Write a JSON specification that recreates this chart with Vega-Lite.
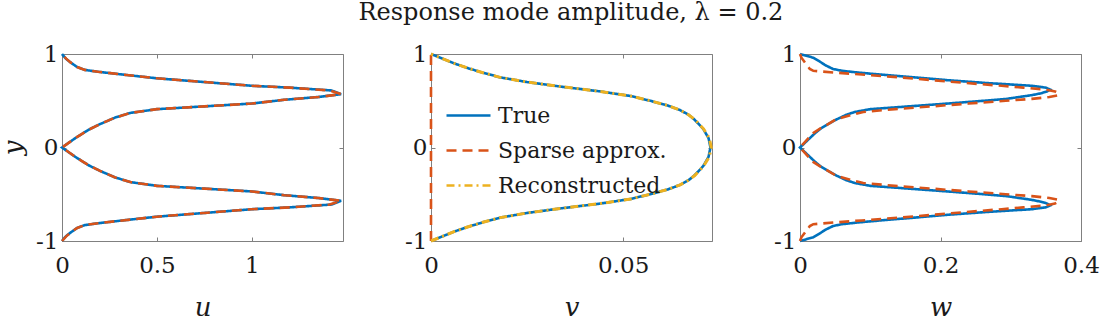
{
  "$schema": "https://vega.github.io/schema/vega-lite/v6.json",
  "background": "white",
  "padding": {"left": 0, "top": 0, "right": 0, "bottom": 0},
  "title": {"text": "Response mode amplitude, λ = 0.2", "offset": 18, "dx": 21},
  "datasets": {
    "u": [
      {"y": 1, "True": 0, "Sparse": 0},
      {"y": 0.95, "True": 0.02, "Sparse": 0.022},
      {"y": 0.91, "True": 0.045, "Sparse": 0.045},
      {"y": 0.86, "True": 0.08, "Sparse": 0.08},
      {"y": 0.83, "True": 0.12, "Sparse": 0.12},
      {"y": 0.81, "True": 0.19, "Sparse": 0.19},
      {"y": 0.78, "True": 0.32, "Sparse": 0.32},
      {"y": 0.74, "True": 0.5, "Sparse": 0.5},
      {"y": 0.7, "True": 0.75, "Sparse": 0.75},
      {"y": 0.66, "True": 1.0, "Sparse": 1.0},
      {"y": 0.64, "True": 1.2, "Sparse": 1.2},
      {"y": 0.61, "True": 1.42, "Sparse": 1.41},
      {"y": 0.57, "True": 1.47, "Sparse": 1.47},
      {"y": 0.54, "True": 1.35, "Sparse": 1.35},
      {"y": 0.51, "True": 1.17, "Sparse": 1.17},
      {"y": 0.47, "True": 1.0, "Sparse": 1.0},
      {"y": 0.44, "True": 0.75, "Sparse": 0.75},
      {"y": 0.41, "True": 0.5, "Sparse": 0.5},
      {"y": 0.37, "True": 0.36, "Sparse": 0.36},
      {"y": 0.32, "True": 0.28, "Sparse": 0.28},
      {"y": 0.25, "True": 0.2, "Sparse": 0.2},
      {"y": 0.19, "True": 0.14, "Sparse": 0.14},
      {"y": 0.1, "True": 0.07, "Sparse": 0.07},
      {"y": 0, "True": 0, "Sparse": 0},
      {"y": -0.1, "True": 0.07, "Sparse": 0.07},
      {"y": -0.19, "True": 0.14, "Sparse": 0.14},
      {"y": -0.25, "True": 0.2, "Sparse": 0.2},
      {"y": -0.32, "True": 0.28, "Sparse": 0.28},
      {"y": -0.37, "True": 0.36, "Sparse": 0.36},
      {"y": -0.41, "True": 0.5, "Sparse": 0.5},
      {"y": -0.44, "True": 0.75, "Sparse": 0.75},
      {"y": -0.47, "True": 1.0, "Sparse": 1.0},
      {"y": -0.51, "True": 1.17, "Sparse": 1.17},
      {"y": -0.54, "True": 1.35, "Sparse": 1.35},
      {"y": -0.57, "True": 1.47, "Sparse": 1.47},
      {"y": -0.61, "True": 1.42, "Sparse": 1.41},
      {"y": -0.64, "True": 1.2, "Sparse": 1.2},
      {"y": -0.66, "True": 1.0, "Sparse": 1.0},
      {"y": -0.7, "True": 0.75, "Sparse": 0.75},
      {"y": -0.74, "True": 0.5, "Sparse": 0.5},
      {"y": -0.78, "True": 0.32, "Sparse": 0.32},
      {"y": -0.81, "True": 0.19, "Sparse": 0.19},
      {"y": -0.83, "True": 0.12, "Sparse": 0.12},
      {"y": -0.86, "True": 0.08, "Sparse": 0.08},
      {"y": -0.91, "True": 0.045, "Sparse": 0.045},
      {"y": -0.95, "True": 0.02, "Sparse": 0.022},
      {"y": -1, "True": 0, "Sparse": 0}
    ],
    "v": [
      {"y": 1, "True": 0, "Sparse": 0, "Reconstructed": 0},
      {"y": 0.95, "True": 0.003, "Sparse": 0, "Reconstructed": 0.003},
      {"y": 0.9, "True": 0.006, "Sparse": 0, "Reconstructed": 0.006},
      {"y": 0.85, "True": 0.0095, "Sparse": 0, "Reconstructed": 0.0095},
      {"y": 0.8, "True": 0.0135, "Sparse": 0, "Reconstructed": 0.0135},
      {"y": 0.75, "True": 0.018, "Sparse": 0, "Reconstructed": 0.018},
      {"y": 0.7, "True": 0.025, "Sparse": 0, "Reconstructed": 0.025},
      {"y": 0.65, "True": 0.034, "Sparse": 0, "Reconstructed": 0.034},
      {"y": 0.6, "True": 0.044, "Sparse": 0, "Reconstructed": 0.044},
      {"y": 0.55, "True": 0.052, "Sparse": 0, "Reconstructed": 0.052},
      {"y": 0.5, "True": 0.057, "Sparse": 0, "Reconstructed": 0.057},
      {"y": 0.45, "True": 0.0615, "Sparse": 0, "Reconstructed": 0.0615},
      {"y": 0.4, "True": 0.0648, "Sparse": 0, "Reconstructed": 0.0648},
      {"y": 0.35, "True": 0.067, "Sparse": 0, "Reconstructed": 0.067},
      {"y": 0.3, "True": 0.0685, "Sparse": 0, "Reconstructed": 0.0686},
      {"y": 0.2, "True": 0.0708, "Sparse": 0, "Reconstructed": 0.0709},
      {"y": 0.1, "True": 0.0722, "Sparse": 0, "Reconstructed": 0.0724},
      {"y": 0, "True": 0.0727, "Sparse": 0, "Reconstructed": 0.0729},
      {"y": -0.1, "True": 0.0722, "Sparse": 0, "Reconstructed": 0.0724},
      {"y": -0.2, "True": 0.0708, "Sparse": 0, "Reconstructed": 0.0709},
      {"y": -0.3, "True": 0.0685, "Sparse": 0, "Reconstructed": 0.0686},
      {"y": -0.35, "True": 0.067, "Sparse": 0, "Reconstructed": 0.067},
      {"y": -0.4, "True": 0.0648, "Sparse": 0, "Reconstructed": 0.0648},
      {"y": -0.45, "True": 0.0615, "Sparse": 0, "Reconstructed": 0.0615},
      {"y": -0.5, "True": 0.057, "Sparse": 0, "Reconstructed": 0.057},
      {"y": -0.55, "True": 0.052, "Sparse": 0, "Reconstructed": 0.052},
      {"y": -0.6, "True": 0.044, "Sparse": 0, "Reconstructed": 0.044},
      {"y": -0.65, "True": 0.034, "Sparse": 0, "Reconstructed": 0.034},
      {"y": -0.7, "True": 0.025, "Sparse": 0, "Reconstructed": 0.025},
      {"y": -0.75, "True": 0.018, "Sparse": 0, "Reconstructed": 0.018},
      {"y": -0.8, "True": 0.0135, "Sparse": 0, "Reconstructed": 0.0135},
      {"y": -0.85, "True": 0.0095, "Sparse": 0, "Reconstructed": 0.0095},
      {"y": -0.9, "True": 0.006, "Sparse": 0, "Reconstructed": 0.006},
      {"y": -0.95, "True": 0.003, "Sparse": 0, "Reconstructed": 0.003},
      {"y": -1, "True": 0, "Sparse": 0, "Reconstructed": 0}
    ],
    "w": [
      {"y": 1, "True": 0, "Sparse": 0},
      {"y": 0.96, "True": 0.019, "Sparse": 0.002},
      {"y": 0.92, "True": 0.028, "Sparse": 0.006},
      {"y": 0.88, "True": 0.036, "Sparse": 0.01},
      {"y": 0.84, "True": 0.047, "Sparse": 0.014},
      {"y": 0.82, "True": 0.06, "Sparse": 0.019},
      {"y": 0.8, "True": 0.085, "Sparse": 0.052},
      {"y": 0.78, "True": 0.115, "Sparse": 0.088},
      {"y": 0.75, "True": 0.163, "Sparse": 0.142},
      {"y": 0.72, "True": 0.21, "Sparse": 0.188},
      {"y": 0.69, "True": 0.265, "Sparse": 0.236},
      {"y": 0.66, "True": 0.33, "Sparse": 0.287},
      {"y": 0.64, "True": 0.35, "Sparse": 0.318},
      {"y": 0.62, "True": 0.356, "Sparse": 0.349},
      {"y": 0.6, "True": 0.352, "Sparse": 0.363},
      {"y": 0.58, "True": 0.343, "Sparse": 0.368},
      {"y": 0.56, "True": 0.33, "Sparse": 0.368},
      {"y": 0.54, "True": 0.312, "Sparse": 0.355},
      {"y": 0.52, "True": 0.294, "Sparse": 0.33},
      {"y": 0.5, "True": 0.262, "Sparse": 0.293},
      {"y": 0.47, "True": 0.21, "Sparse": 0.24},
      {"y": 0.44, "True": 0.155, "Sparse": 0.188},
      {"y": 0.41, "True": 0.1, "Sparse": 0.135},
      {"y": 0.38, "True": 0.078, "Sparse": 0.09},
      {"y": 0.35, "True": 0.066, "Sparse": 0.074},
      {"y": 0.3, "True": 0.052, "Sparse": 0.051},
      {"y": 0.25, "True": 0.04, "Sparse": 0.04},
      {"y": 0.2, "True": 0.029, "Sparse": 0.028},
      {"y": 0.15, "True": 0.021, "Sparse": 0.018},
      {"y": 0.1, "True": 0.014, "Sparse": 0.012},
      {"y": 0.05, "True": 0.007, "Sparse": 0.006},
      {"y": 0, "True": 0, "Sparse": 0},
      {"y": -0.05, "True": 0.007, "Sparse": 0.006},
      {"y": -0.1, "True": 0.014, "Sparse": 0.012},
      {"y": -0.15, "True": 0.021, "Sparse": 0.018},
      {"y": -0.2, "True": 0.029, "Sparse": 0.028},
      {"y": -0.25, "True": 0.04, "Sparse": 0.04},
      {"y": -0.3, "True": 0.052, "Sparse": 0.051},
      {"y": -0.35, "True": 0.066, "Sparse": 0.074},
      {"y": -0.38, "True": 0.078, "Sparse": 0.09},
      {"y": -0.41, "True": 0.1, "Sparse": 0.135},
      {"y": -0.44, "True": 0.155, "Sparse": 0.188},
      {"y": -0.47, "True": 0.21, "Sparse": 0.24},
      {"y": -0.5, "True": 0.262, "Sparse": 0.293},
      {"y": -0.52, "True": 0.294, "Sparse": 0.33},
      {"y": -0.54, "True": 0.312, "Sparse": 0.355},
      {"y": -0.56, "True": 0.33, "Sparse": 0.368},
      {"y": -0.58, "True": 0.343, "Sparse": 0.368},
      {"y": -0.6, "True": 0.352, "Sparse": 0.363},
      {"y": -0.62, "True": 0.356, "Sparse": 0.349},
      {"y": -0.64, "True": 0.35, "Sparse": 0.318},
      {"y": -0.66, "True": 0.33, "Sparse": 0.287},
      {"y": -0.69, "True": 0.265, "Sparse": 0.236},
      {"y": -0.72, "True": 0.21, "Sparse": 0.188},
      {"y": -0.75, "True": 0.163, "Sparse": 0.142},
      {"y": -0.78, "True": 0.115, "Sparse": 0.088},
      {"y": -0.8, "True": 0.085, "Sparse": 0.052},
      {"y": -0.82, "True": 0.06, "Sparse": 0.019},
      {"y": -0.84, "True": 0.047, "Sparse": 0.014},
      {"y": -0.88, "True": 0.036, "Sparse": 0.01},
      {"y": -0.92, "True": 0.028, "Sparse": 0.006},
      {"y": -0.96, "True": 0.019, "Sparse": 0.002},
      {"y": -1, "True": 0, "Sparse": 0}
    ]
  },
  "hconcat": [
    {
      "width": 281, "height": 187,
      "data": {"name": "u"},
      "transform": [{"fold": ["True", "Sparse"], "as": ["s", "x"]}],
      "layer": [
        {
          "transform": [{"filter": "datum.s == 'True'"}],
          "mark": {"type": "line", "strokeWidth": 2.6},
          "encoding": {
            "x": {"field": "x", "type": "quantitative", "scale": {"domain": [0, 1.48], "nice": false, "zero": false}, "axis": {"orient": "bottom", "values": [0, 0.5, 1], "format": "~g", "title": "u"}},
            "y": {"field": "y", "type": "quantitative", "scale": {"domain": [-1, 1], "nice": false}, "axis": {"orient": "left", "values": [-1, 0, 1], "labelExpr": "datum.value < 0 ? '-1' : (datum.value > 0 ? '1' : '0')", "title": "y"}},
            "order": {"field": "y"},
            "color": {"field": "s", "type": "nominal", "scale": {"domain": ["True", "Sparse", "Reconstructed"], "range": ["#0072BD", "#D95319", "#EDB120"]}, "legend": null},
            "strokeDash": {"field": "s", "type": "nominal", "scale": {"domain": ["True", "Sparse", "Reconstructed"], "range": [[1, 0], [10, 6], [8, 4, 2, 4]]}, "legend": null}
          }
        },
        {
          "transform": [{"filter": "datum.s == 'Sparse'"}],
          "mark": {"type": "line", "strokeWidth": 2.6},
          "encoding": {
            "x": {"field": "x", "type": "quantitative", "axis": null},
            "y": {"field": "y", "type": "quantitative", "axis": null},
            "order": {"field": "y"},
            "color": {"field": "s", "type": "nominal", "legend": null},
            "strokeDash": {"field": "s", "type": "nominal", "legend": null}
          }
        },
        {
          "mark": {"type": "line", "opacity": 0},
          "encoding": {
            "x": {"field": "x", "type": "quantitative", "axis": {"orient": "top", "values": [0, 0.5, 1], "labels": false, "title": null}},
            "y": {"field": "y", "type": "quantitative", "axis": {"orient": "right", "values": [-1, 0, 1], "labels": false, "title": null}},
            "order": {"field": "y"}
          }
        }
      ],
      "resolve": {"axis": {"x": "independent", "y": "independent"}}
    },
    {
      "width": 281, "height": 187,
      "data": {"name": "v"},
      "transform": [{"fold": ["True", "Sparse", "Reconstructed"], "as": ["s", "x"]}],
      "layer": [
        {
          "transform": [{"filter": "datum.s == 'True'"}],
          "mark": {"type": "line", "strokeWidth": 2.6},
          "encoding": {
            "x": {"field": "x", "type": "quantitative", "scale": {"domain": [0, 0.0731], "nice": false, "zero": false}, "axis": {"orient": "bottom", "values": [0, 0.05], "format": "~g", "title": "v"}},
            "y": {"field": "y", "type": "quantitative", "scale": {"domain": [-1, 1], "nice": false}, "axis": {"orient": "left", "values": [-1, 0, 1], "labelExpr": "datum.value < 0 ? '-1' : (datum.value > 0 ? '1' : '0')", "title": null}},
            "order": {"field": "y"},
            "color": {"field": "s", "type": "nominal", "scale": {"domain": ["True", "Sparse", "Reconstructed"], "range": ["#0072BD", "#D95319", "#EDB120"]}, "legend": {"orient": "none", "legendX": 14, "legendY": 38, "labelExpr": "datum.label == 'Sparse' ? 'Sparse approx.' : datum.label"}},
            "strokeDash": {"field": "s", "type": "nominal", "scale": {"domain": ["True", "Sparse", "Reconstructed"], "range": [[1, 0], [10, 6], [8, 4, 2, 4]]}, "legend": {"orient": "none", "legendX": 14, "legendY": 38, "labelExpr": "datum.label == 'Sparse' ? 'Sparse approx.' : datum.label"}}
          }
        },
        {
          "transform": [{"filter": "datum.s == 'Sparse'"}],
          "mark": {"type": "line", "strokeWidth": 2.6},
          "encoding": {
            "x": {"field": "x", "type": "quantitative", "axis": null},
            "y": {"field": "y", "type": "quantitative", "axis": null},
            "order": {"field": "y"},
            "color": {"field": "s", "type": "nominal"},
            "strokeDash": {"field": "s", "type": "nominal"}
          }
        },
        {
          "transform": [{"filter": "datum.s == 'Reconstructed'"}],
          "mark": {"type": "line", "strokeWidth": 3},
          "encoding": {
            "x": {"field": "x", "type": "quantitative", "axis": null},
            "y": {"field": "y", "type": "quantitative", "axis": null},
            "order": {"field": "y"},
            "color": {"field": "s", "type": "nominal"},
            "strokeDash": {"field": "s", "type": "nominal"}
          }
        },
        {
          "mark": {"type": "line", "opacity": 0},
          "encoding": {
            "x": {"field": "x", "type": "quantitative", "axis": {"orient": "top", "values": [0, 0.05], "labels": false, "title": null}},
            "y": {"field": "y", "type": "quantitative", "axis": {"orient": "right", "values": [-1, 0, 1], "labels": false, "title": null}},
            "order": {"field": "y"}
          }
        }
      ],
      "resolve": {"axis": {"x": "independent", "y": "independent"}}
    },
    {
      "width": 281, "height": 187,
      "data": {"name": "w"},
      "transform": [{"fold": ["True", "Sparse"], "as": ["s", "x"]}],
      "layer": [
        {
          "transform": [{"filter": "datum.s == 'True'"}],
          "mark": {"type": "line", "strokeWidth": 2.6},
          "encoding": {
            "x": {"field": "x", "type": "quantitative", "scale": {"domain": [0, 0.4], "nice": false, "zero": false}, "axis": {"orient": "bottom", "values": [0, 0.2, 0.4], "format": "~g", "title": "w"}},
            "y": {"field": "y", "type": "quantitative", "scale": {"domain": [-1, 1], "nice": false}, "axis": {"orient": "left", "values": [-1, 0, 1], "labelExpr": "datum.value < 0 ? '-1' : (datum.value > 0 ? '1' : '0')", "title": null}},
            "order": {"field": "y"},
            "color": {"field": "s", "type": "nominal", "scale": {"domain": ["True", "Sparse", "Reconstructed"], "range": ["#0072BD", "#D95319", "#EDB120"]}, "legend": null},
            "strokeDash": {"field": "s", "type": "nominal", "scale": {"domain": ["True", "Sparse", "Reconstructed"], "range": [[1, 0], [10, 6], [8, 4, 2, 4]]}, "legend": null}
          }
        },
        {
          "transform": [{"filter": "datum.s == 'Sparse'"}],
          "mark": {"type": "line", "strokeWidth": 2.6},
          "encoding": {
            "x": {"field": "x", "type": "quantitative", "axis": null},
            "y": {"field": "y", "type": "quantitative", "axis": null},
            "order": {"field": "y"},
            "color": {"field": "s", "type": "nominal", "legend": null},
            "strokeDash": {"field": "s", "type": "nominal", "legend": null}
          }
        },
        {
          "mark": {"type": "line", "opacity": 0},
          "encoding": {
            "x": {"field": "x", "type": "quantitative", "axis": {"orient": "top", "values": [0, 0.2, 0.4], "labels": false, "title": null}},
            "y": {"field": "y", "type": "quantitative", "axis": {"orient": "right", "values": [-1, 0, 1], "labels": false, "title": null}},
            "order": {"field": "y"}
          }
        }
      ],
      "resolve": {"axis": {"x": "independent", "y": "independent"}}
    }
  ],
  "spacing": 88,
  "bounds": "flush",
  "resolve": {"scale": {"color": "independent", "strokeDash": "independent"}, "legend": {"color": "independent", "strokeDash": "independent"}},
  "config": {
    "font": "DejaVu Serif",
    "view": {"stroke": "#808080", "strokeWidth": 1},
    "title": {"font": "DejaVu Serif", "fontSize": 24, "fontWeight": "normal", "color": "#1a1a1a", "anchor": "middle"},
    "axis": {
      "domain": false, "grid": false, "ticks": true, "tickSize": -4, "tickColor": "#808080", "tickWidth": 1,
      "labelFont": "DejaVu Serif", "labelFontSize": 23, "labelColor": "#1a1a1a", "labelFlush": false, "labelOverlap": false,
      "titleFont": "DejaVu Serif", "titleFontSize": 26, "titleFontStyle": "italic", "titleFontWeight": "normal", "titleColor": "#1a1a1a"
    },
    "axisX": {"labelPadding": 17, "titlePadding": 17},
    "axisY": {"labelPadding": 8, "titlePadding": 9},
    "legend": {
      "symbolType": "stroke", "symbolSize": 1936, "symbolStrokeWidth": 2.6, "title": null,
      "labelFont": "DejaVu Serif", "labelFontSize": 22, "labelColor": "#1a1a1a", "labelOffset": 6, "labelLimit": 0,
      "rowPadding": 0, "padding": 0
    }
  }
}
